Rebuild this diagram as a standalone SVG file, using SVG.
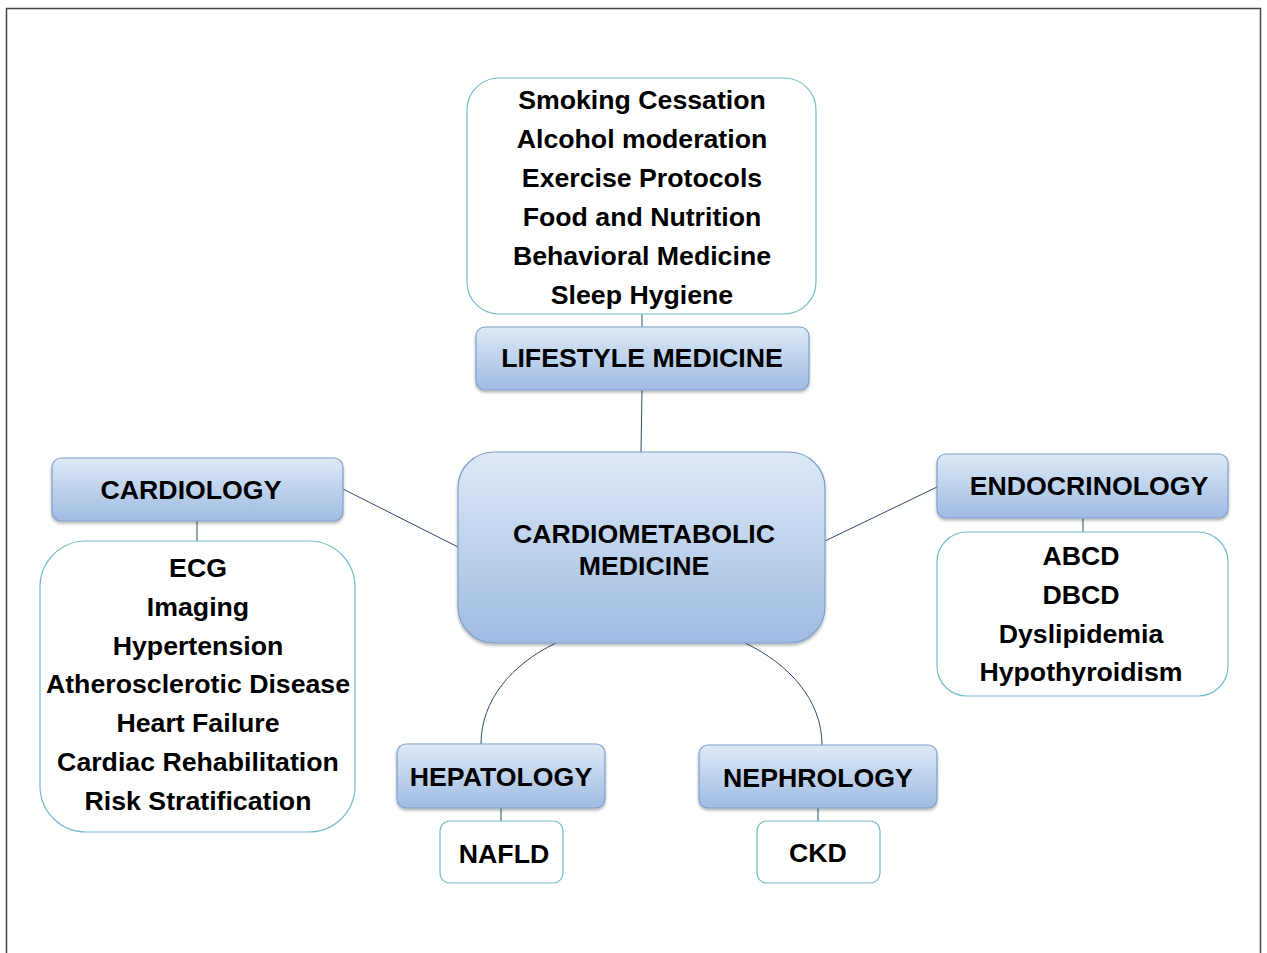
<svg xmlns="http://www.w3.org/2000/svg" width="1267" height="953" viewBox="0 0 1267 953">
<defs>
<linearGradient id="blue" x1="0" y1="0" x2="0" y2="1">
<stop offset="0" stop-color="#dde9f6"/>
<stop offset="1" stop-color="#9fbbe2"/>
</linearGradient>
<filter id="sh" x="-10%" y="-10%" width="120%" height="130%">
<feDropShadow dx="0" dy="2" stdDeviation="1.5" flood-color="#000" flood-opacity="0.3"/>
</filter>
<style>
.hd{fill:url(#blue);stroke:#7f9fca;stroke-width:1.2;filter:url(#sh)}
.ls{fill:#fff;stroke:#74bccb;stroke-width:1.2}
text{font-family:"Liberation Sans",Arial,sans-serif;font-weight:bold;font-size:26.7px;fill:#000;text-anchor:middle}
.cn{fill:none;stroke:#2d4a6b;stroke-width:1}
</style>
</defs>
<rect width="1267" height="953" fill="#fff"/>
<path d="M6.5,953 V8.5 H1260.5 V953" fill="none" stroke="#444" stroke-width="1.5"/>
<g id="connectors">
<line class="cn" x1="642" y1="314" x2="642" y2="327"/>
<line class="cn" x1="642" y1="390" x2="641" y2="452"/>
<line class="cn" x1="343" y1="489" x2="458" y2="547"/>
<line class="cn" x1="825" y1="541" x2="937" y2="487"/>
<line class="cn" x1="197" y1="521" x2="197" y2="541"/>
<line class="cn" x1="1083" y1="518" x2="1083" y2="532"/>
<path class="cn" d="M556,643 C512,664 481,700 481,744"/>
<path class="cn" d="M745,643 C789,664 822,700 822,745"/>
<line class="cn" x1="501" y1="808" x2="501" y2="821"/>
<line class="cn" x1="818" y1="808" x2="818" y2="821"/>
</g>
<g id="lifestyle-list">
<rect class="ls" x="467" y="78" width="349" height="236" rx="32"/>
<text x="642" y="109">Smoking Cessation</text>
<text x="642" y="148">Alcohol moderation</text>
<text x="642" y="187">Exercise Protocols</text>
<text x="642" y="226">Food and Nutrition</text>
<text x="642" y="265">Behavioral Medicine</text>
<text x="642" y="304">Sleep Hygiene</text>
</g>
<g id="lifestyle">
<rect class="hd" x="476" y="327" width="333" height="63" rx="9"/>
<text x="642" y="367">LIFESTYLE MEDICINE</text>
</g>
<g id="central">
<rect class="hd" x="458" y="452" width="367" height="191" rx="36"/>
<text x="644" y="543">CARDIOMETABOLIC</text>
<text x="644" y="575">MEDICINE</text>
</g>
<g id="cardiology">
<rect class="hd" x="52" y="458" width="291" height="63" rx="9"/>
<text x="191" y="499">CARDIOLOGY</text>
</g>
<g id="cardiology-list">
<rect class="ls" x="40" y="541" width="315" height="291" rx="46"/>
<text x="198" y="577">ECG</text>
<text x="198" y="616">Imaging</text>
<text x="198" y="655">Hypertension</text>
<text x="198" y="693">Atherosclerotic Disease</text>
<text x="198" y="732">Heart Failure</text>
<text x="198" y="771">Cardiac Rehabilitation</text>
<text x="198" y="810">Risk Stratification</text>
</g>
<g id="endocrinology">
<rect class="hd" x="937" y="454" width="291" height="64" rx="9"/>
<text x="1089" y="495">ENDOCRINOLOGY</text>
</g>
<g id="endocrinology-list">
<rect class="ls" x="937" y="532" width="291" height="164" rx="30"/>
<text x="1081" y="565">ABCD</text>
<text x="1081" y="604">DBCD</text>
<text x="1081" y="643">Dyslipidemia</text>
<text x="1081" y="681">Hypothyroidism</text>
</g>
<g id="hepatology">
<rect class="hd" x="397" y="744" width="208" height="64" rx="9"/>
<text x="501" y="786">HEPATOLOGY</text>
</g>
<g id="nafld">
<rect class="ls" x="440" y="821" width="123" height="62" rx="10"/>
<text x="504" y="863">NAFLD</text>
</g>
<g id="nephrology">
<rect class="hd" x="699" y="745" width="238" height="63" rx="9"/>
<text x="818" y="787">NEPHROLOGY</text>
</g>
<g id="ckd">
<rect class="ls" x="757" y="821" width="123" height="62" rx="10"/>
<text x="818" y="862">CKD</text>
</g>
</svg>
